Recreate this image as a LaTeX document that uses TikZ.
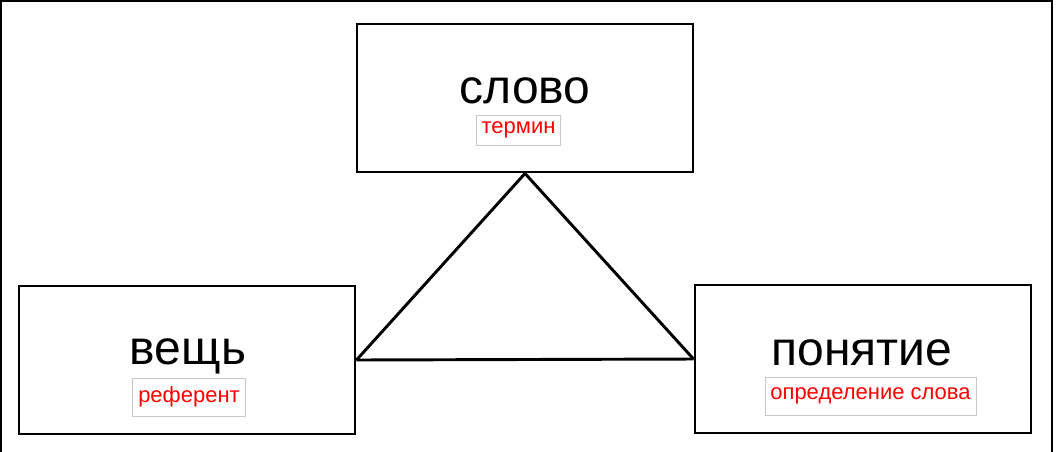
\documentclass[tikz,border=0pt]{standalone}
\usepackage{fontspec}
\setmainfont{Liberation Sans}
\usepackage{tikz}
\usetikzlibrary{shapes}

\begin{document}
\begin{tikzpicture}[x=0.75pt,y=0.75pt,yscale=-1,
    box/.style={draw, line width=2.2pt, minimum width=252pt, minimum height=111pt, inner sep=0pt},
    word/.style={font=\fontsize{36}{40}\selectfont, anchor=base},
    tag/.style={draw={rgb,255:red,200;green,200;blue,200}, line width=0.75pt, fill=white, text={rgb,255:red,255;green,0;blue,0}, font=\fontsize{16.5}{18}\selectfont, inner xsep=4pt, inner ysep=0pt, minimum height=28.5pt},
    link/.style={line width=2.2pt}]
    \useasboundingbox (0,0) rectangle (1056,451);
    
    %Frame
    \draw [line width=0.8pt] (1,452) -- (1,1) -- (1052,1) -- (1052,452) ;
    
    %Shape: Rectangle
    \node [box] (slovo) at (525,98) {};
    %Shape: Rectangle
    \node [box] (vesch) at (187,360) {};
    %Shape: Rectangle
    \node [box] (ponyatie) at (863,359) {};
    
    %Straight Lines
    \draw [link] (slovo.south) -- (vesch.east) ;
    %Straight Lines
    \draw [link] (slovo.south) -- (ponyatie.west) ;
    %Straight Lines
    \draw [link] (vesch.east) -- (ponyatie.west) ;
    
    % Text Node
    \node [word] (slovo text) at (525,103) {слово};
    % Text Node
    \node [word] (vesch text) at (188,364) {вещь};
    % Text Node
    \node [word] (ponyatie text) at (862,365) {понятие};
    
    % Text Node
    \node [tag, minimum height=22.5pt] (termin) at (518.5,130) {термин};
    % Text Node
    \node [tag] (referent) at (189,397) {референт};
    % Text Node
    \node [tag] (definition) at (870.5,396) {определение слова};
    
\end{tikzpicture}
\end{document}
